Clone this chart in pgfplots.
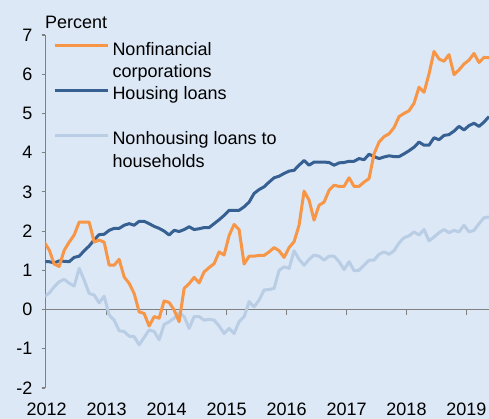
\documentclass[border=0pt]{standalone}
\usepackage{fontspec}
\setmainfont{Liberation Sans}
\usepackage{pgfplots}
\usepackage{pgfplotstable}
\pgfplotsset{compat=1.18}
\usetikzlibrary{backgrounds,calc}

\definecolor{nfcorange}{RGB}{247,150,70}
\definecolor{hldark}{RGB}{54,96,146}
\definecolor{nhllight}{RGB}{185,205,229}
\definecolor{bgblue}{RGB}{220,232,246}
\definecolor{axisgray}{RGB}{128,128,128}
\newcommand{\chartfont}{\fontsize{18}{22}\selectfont}

% monthly growth rates, percent
\pgfplotstableread{
date     nfc   hl    nhl
2011.958 1.72  1.22  0.33
2012.042 1.52  1.22  0.42
2012.125 1.16  1.19  0.58
2012.208 1.10  1.24  0.71
2012.292 1.51  1.23  0.77
2012.375 1.72  1.22  0.67
2012.458 1.90  1.33  0.60
2012.542 2.23  1.36  1.05
2012.625 2.23  1.50  0.75
2012.708 2.23  1.62  0.41
2012.792 1.72  1.78  0.37
2012.875 1.77  1.91  0.17
2012.958 1.72  1.92  0.34
2013.042 1.13  2.02 -0.14
2013.125 1.13  2.07 -0.27
2013.208 1.28  2.07 -0.54
2013.292 0.83  2.15 -0.56
2013.375 0.67  2.19 -0.68
2013.458 0.41  2.15 -0.69
2013.542 -0.06 2.25 -0.90
2013.625 -0.10 2.25 -0.71
2013.708 -0.42 2.19 -0.52
2013.792 -0.18 2.12 -0.56
2013.875 -0.22 2.07 -0.77
2013.958 0.22  2.00 -0.38
2014.042 0.18  1.90 -0.31
2014.125 -0.01 2.02 -0.22
2014.208 -0.31 1.99 -0.08
2014.292 0.54  2.04 -0.18
2014.375 0.66  2.11 -0.48
2014.458 0.82  2.04 -0.18
2014.542 0.68  2.06 -0.18
2014.625 0.96  2.09 -0.27
2014.708 1.07  2.09 -0.25
2014.792 1.17  2.19 -0.27
2014.875 1.47  2.29 -0.42
2014.958 1.39  2.40 -0.61
2015.042 1.89  2.53 -0.48
2015.125 2.17  2.53 -0.61
2015.208 2.04  2.53 -0.31
2015.292 1.16  2.62 -0.18
2015.375 1.36  2.74  0.20
2015.458 1.36  2.96  0.07
2015.542 1.38  3.06  0.24
2015.625 1.38  3.13  0.50
2015.708 1.47  3.25  0.51
2015.792 1.58  3.36  0.54
2015.875 1.50  3.40  1.00
2015.958 1.33  3.47  1.09
2016.042 1.58  3.53  1.05
2016.125 1.73  3.55  1.50
2016.208 2.15  3.68  1.28
2016.292 3.02  3.80  1.13
2016.375 2.79  3.68  1.28
2016.458 2.28  3.76  1.39
2016.542 2.66  3.76  1.36
2016.625 2.74  3.76  1.26
2016.708 3.04  3.75  1.36
2016.792 3.17  3.68  1.36
2016.875 3.14  3.74  1.22
2016.958 3.14  3.75  1.02
2017.042 3.36  3.78  1.22
2017.125 3.14  3.78  0.99
2017.208 3.14  3.85  1.00
2017.292 3.25  3.82  1.13
2017.375 3.34  3.96  1.26
2017.458 3.97  3.90  1.26
2017.542 4.27  3.85  1.41
2017.625 4.41  3.89  1.47
2017.708 4.48  3.92  1.41
2017.792 4.64  3.90  1.50
2017.875 4.92  3.90  1.70
2017.958 5.00  3.97  1.83
2018.042 5.07  4.05  1.88
2018.125 5.26  4.14  1.98
2018.208 5.67  4.27  1.90
2018.292 5.54  4.19  2.04
2018.375 6.01  4.19  1.75
2018.458 6.58  4.38  1.85
2018.542 6.39  4.33  1.96
2018.625 6.33  4.44  2.04
2018.708 6.50  4.46  1.96
2018.792 5.99  4.55  2.02
2018.875 6.11  4.67  1.98
2018.958 6.26  4.58  2.15
2019.042 6.36  4.69  1.98
2019.125 6.53  4.75  2.02
2019.208 6.30  4.67  2.19
2019.292 6.43  4.78  2.34
2019.375 6.42  4.92  2.36
}\loans

\begin{document}
\begin{tikzpicture}
\begin{axis}[
    scale only axis, width=443.5pt, height=353pt,
    xmin=2011.98, xmax=2019.375, ymin=-2, ymax=7,
    xtick={2012,...,2019},
    xticklabels={2012,2013,2014,2015,2016,2017,2018,2019},
    ytick={-2,...,7},
    yticklabels={-2,-1,0,1,2,3,4,5,6,7},
    axis line style={draw=none},
    xtick pos=left, ytick pos=left, tick align=outside,
    major tick length=4pt,
    xtick style={draw=none},
    ytick style={draw=axisgray, line width=1.2pt},
    ticklabel style={font=\chartfont, text=black},
    xticklabel style={yshift=-7pt},
    yticklabel style={xshift=-5.5pt},
    clip mode=individual,
    legend image code/.code={\draw[#1] (0pt,6.8pt) -- (53pt,6.8pt);},
    legend style={at={(0,1)}, anchor=north west, xshift=8pt, yshift=-6pt,
        draw=none, fill=none, inner sep=0pt, outer sep=0pt,
        row sep=0pt, column sep=3pt, cells={anchor=west}, font=\chartfont,
        nodes={inner sep=0pt, text height=14pt, text depth=8.4pt}},
]
\coordinate (bl) at (rel axis cs:0,0);
\coordinate (tr) at (rel axis cs:1,1);
\draw[axisgray, line width=1.6pt] (rel axis cs:0,0) -- (rel axis cs:0,1);
\draw[axisgray, line width=1.6pt] (axis cs:2011.98,0) -- (axis cs:2019.375,0);
\pgfplotsinvokeforeach{2013,...,2019}{
  \draw[axisgray, line width=1.2pt] (axis cs:#1,0) -- ++(0pt,-5pt);
}

\addplot[nhllight, line width=3pt, line join=round, forget plot] table[x=date, y=nhl] {\loans};
\addplot[hldark, line width=3pt, line join=round, forget plot] table[x=date, y=hl] {\loans};
\addplot[nfcorange, line width=3pt, line join=round, forget plot] table[x=date, y=nfc] {\loans};

\addlegendimage{nfcorange, line width=3pt}
\addlegendentry{Nonfinancial}
\addlegendimage{empty legend}
\addlegendentry{corporations}
\addlegendimage{hldark, line width=3pt}
\addlegendentry{Housing loans}
\addlegendimage{empty legend}
\addlegendentry{}
\addlegendimage{nhllight, line width=3pt}
\addlegendentry{Nonhousing loans to}
\addlegendimage{empty legend}
\addlegendentry{households}
\end{axis}

\node[anchor=base west, inner sep=0pt, font=\chartfont] at ($(bl|-tr)+(-0.5pt,7pt)$) {Percent};

\begin{scope}[on background layer]
\fill[bgblue] ($(bl)+(-45.5pt,-31pt)$) rectangle ($(tr)+(0pt,35pt)$);
\end{scope}
\pgfresetboundingbox
\path[use as bounding box] ($(bl)+(-45.5pt,-31pt)$) rectangle ($(tr)+(0pt,35pt)$);
\end{tikzpicture}
\end{document}
